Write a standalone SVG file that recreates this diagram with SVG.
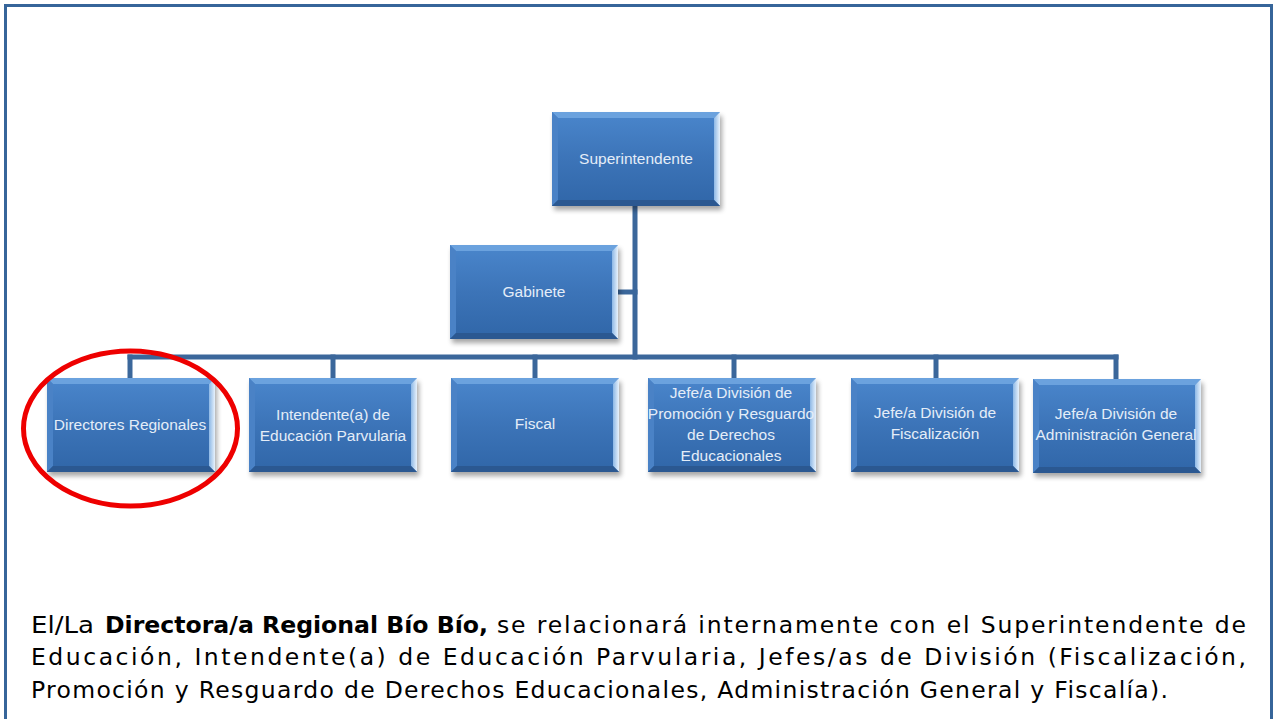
<svg xmlns="http://www.w3.org/2000/svg" xmlns:xlink="http://www.w3.org/1999/xlink" width="1275" height="719" viewBox="0 0 1275 719">
<style>
.lbl{font-family:"Liberation Sans",Arial,sans-serif;font-size:15.5px;fill:#e4edf8;text-anchor:middle}
.conn{stroke:#3b679b;stroke-width:5;fill:none;stroke-linecap:square}
.body{font-family:"DejaVu Sans","Liberation Sans",sans-serif;font-size:23.5px;fill:#000}
.bold{font-weight:bold}
</style>
<defs>
<linearGradient id="face" x1="0" y1="0" x2="0" y2="1">
<stop offset="0" stop-color="#4a86cc"/>
<stop offset="0.5" stop-color="#3c74b8"/>
<stop offset="1" stop-color="#3066a8"/>
</linearGradient>
<linearGradient id="rbev" x1="0" y1="0" x2="1" y2="0">
<stop offset="0" stop-color="#8db8e6"/>
<stop offset="1" stop-color="#e8f2fc"/>
</linearGradient>
<filter id="sh" x="-10%" y="-10%" width="130%" height="140%">
<feGaussianBlur stdDeviation="2.5"/>
</filter>
<g id="box">
<rect x="2" y="4" width="168" height="94" fill="#000" opacity="0.35" filter="url(#sh)"/>
<rect x="0" y="0" width="168" height="94" fill="url(#face)"/>
<polygon points="0,0 168,0 162,6 6,6" fill="#6ba2de"/>
<polygon points="0,0 6,6 6,88 0,94" fill="#4a82c6"/>
<polygon points="168,0 168,94 162,88 162,6" fill="url(#rbev)"/>
<polygon points="0,94 6,88 162,88 168,94" fill="#2b5891"/>
</g>
</defs>
<rect x="0" y="0" width="1275" height="719" fill="#ffffff"/>
<rect x="5.5" y="5.5" width="1266" height="740" fill="none" stroke="#36659a" stroke-width="3"/>
<g id="connectors">
<line class="conn" x1="635" y1="207" x2="635" y2="357"/>
<line class="conn" x1="618" y1="292" x2="635" y2="292"/>
<line class="conn" x1="130" y1="357" x2="1116" y2="357"/>
<line class="conn" x1="130" y1="357" x2="130" y2="378"/>
<line class="conn" x1="333" y1="357" x2="333" y2="378"/>
<line class="conn" x1="535" y1="357" x2="535" y2="378"/>
<line class="conn" x1="734" y1="357" x2="734" y2="378"/>
<line class="conn" x1="936" y1="357" x2="936" y2="378"/>
<line class="conn" x1="1116" y1="357" x2="1116" y2="379"/>
</g>
<g id="superintendente">
<use xlink:href="#box" x="552" y="112"/>
<text class="lbl" x="636" y="164">Superintendente</text>
</g>
<g id="gabinete">
<use xlink:href="#box" x="450" y="245"/>
<text class="lbl" x="534" y="297">Gabinete</text>
</g>
<g id="directores">
<use xlink:href="#box" x="47" y="378"/>
<text class="lbl" x="130" y="430">Directores Regionales</text>
</g>
<g id="intendente">
<use xlink:href="#box" x="249" y="378"/>
<text class="lbl" x="333" y="420">Intendente(a) de</text>
<text class="lbl" x="333" y="441">Educación Parvularia</text>
</g>
<g id="fiscal">
<use xlink:href="#box" x="451" y="378"/>
<text class="lbl" x="535" y="429">Fiscal</text>
</g>
<g id="promocion">
<use xlink:href="#box" x="648" y="378"/>
<text class="lbl" x="731" y="398">Jefe/a División de</text>
<text class="lbl" x="731" y="419">Promoción y Resguardo</text>
<text class="lbl" x="731" y="440">de Derechos</text>
<text class="lbl" x="731" y="461">Educacionales</text>
</g>
<g id="fiscalizacion">
<use xlink:href="#box" x="851" y="378"/>
<text class="lbl" x="935" y="418">Jefe/a División de</text>
<text class="lbl" x="935" y="439">Fiscalización</text>
</g>
<g id="administracion">
<use xlink:href="#box" x="1033" y="379"/>
<text class="lbl" x="1116" y="419">Jefe/a División de</text>
<text class="lbl" x="1116" y="440">Administración General</text>
</g>
<ellipse id="highlight" cx="130.5" cy="428.5" rx="107" ry="77.5" fill="none" stroke="#ee0000" stroke-width="5"/>
<g id="description">
<text class="body" x="31" y="633" textLength="63" lengthAdjust="spacingAndGlyphs">El/La</text>
<text class="body bold" x="105" y="633" textLength="383" lengthAdjust="spacingAndGlyphs">Directora/a Regional Bío Bío,</text>
<text class="body" x="497" y="633" textLength="749" lengthAdjust="spacing">se relacionará internamente con el Superintendente de</text>
<text class="body" x="31" y="665" textLength="1215" lengthAdjust="spacing">Educación, Intendente(a) de Educación Parvularia, Jefes/as de División (Fiscalización,</text>
<text class="body" x="31" y="698" textLength="1137" lengthAdjust="spacing">Promoción y Resguardo de Derechos Educacionales, Administración General y Fiscalía).</text>
</g>
</svg>
